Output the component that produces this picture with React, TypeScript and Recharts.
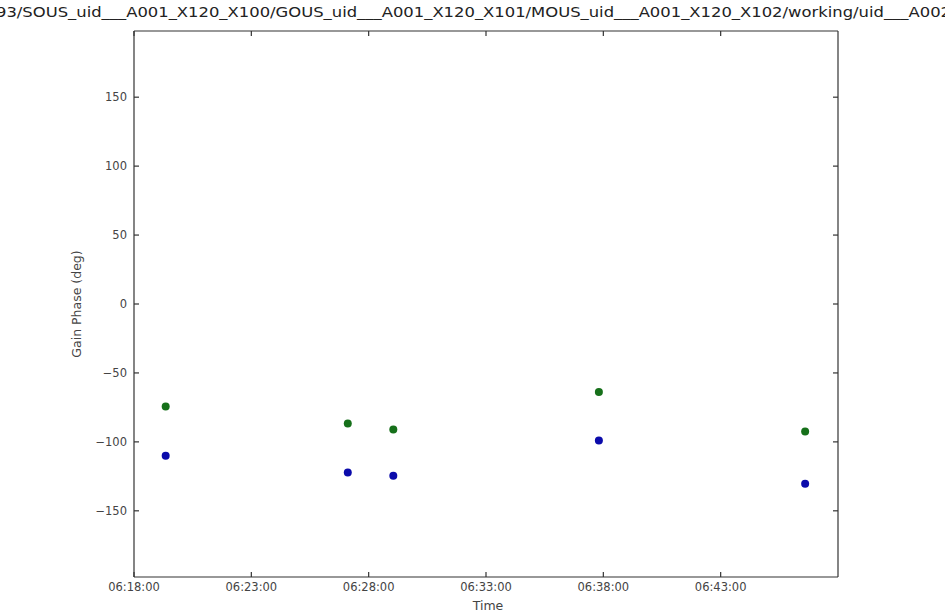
import React from 'react';
import { ScatterChart, Scatter, XAxis, YAxis, ReferenceLine, Customized } from 'recharts';

// minutes after 06:00:00
const timeMinutes = [19.35, 27.11, 29.05, 37.81, 46.6];
const greenPhase = [-74.4, -86.7, -91.1, -63.8, -92.5];
const bluePhase = [-110.1, -122.2, -124.6, -99.0, -130.4];
const xTicks = [18, 23, 28, 33, 38, 43];
const yTicks = [-150, -100, -50, 0, 50, 100, 150];
const xDomain = [18, 48];
const yDomain = [-198, 198];
const titleText = '93/SOUS_uid___A001_X120_X100/GOUS_uid___A001_X120_X101/MOUS_uid___A001_X120_X102/working/uid___A002';

const greenData = timeMinutes.map((t, i) => ({ t, v: greenPhase[i] }));
const blueData = timeMinutes.map((t, i) => ({ t, v: bluePhase[i] }));

const FONT = '"DejaVu Sans", sans-serif';
const AX = '#333';
const TXT = '#444';

// inward tick length (~5px) as a fraction of each axis span
const TICK_FRAC_X = 5 / 704;
const TICK_FRAC_Y = 5 / 546;
const dx = (xDomain[1] - xDomain[0]) * TICK_FRAC_X;
const dy = (yDomain[1] - yDomain[0]) * TICK_FRAC_Y;

const fmtTime = (m: number) => `06:${String(Math.floor(m)).padStart(2, '0')}:00`;
const fmtY = (v: number) => (v < 0 ? '\u2212' + Math.abs(v) : String(v));

const tickStyle = { fontSize: 11.5, fill: TXT, fontFamily: FONT };
const axisLineStyle = { stroke: AX, strokeWidth: 1.2 };

const dot = (color: string) => (p: any) => (
  <circle cx={p.cx} cy={p.cy} r={4} fill={color} stroke="none" />
);

export default function App() {
  return (
    <div style={{ position: 'absolute', left: 0, top: 0, width: 945, height: 613, background: '#fff' }}>
      <ScatterChart width={945} height={613} margin={{ top: 30, right: 106, bottom: 0, left: 0 }}>
        <XAxis xAxisId="bottom" type="number" dataKey="t" domain={xDomain} ticks={xTicks} interval={0} height={36}
          tickSize={0} tickMargin={6} tickLine={false} tick={tickStyle} tickFormatter={fmtTime} axisLine={axisLineStyle} allowDataOverflow />
        <XAxis xAxisId="top" orientation="top" type="number" dataKey="t" domain={xDomain} ticks={xTicks} height={1}
          tickLine={false} tick={false} axisLine={axisLineStyle} allowDataOverflow />
        <YAxis yAxisId="left" type="number" dataKey="v" domain={yDomain} ticks={yTicks} interval={0} width={134}
          tickSize={0} tickMargin={7} tickLine={false} tick={tickStyle} tickFormatter={fmtY} axisLine={axisLineStyle} allowDataOverflow />
        <YAxis yAxisId="right" orientation="right" type="number" dataKey="v" domain={yDomain} ticks={yTicks} width={1}
          tickLine={false} tick={false} axisLine={axisLineStyle} allowDataOverflow />
        {xTicks.map((t) => (
          <ReferenceLine key={'xb' + t} xAxisId="bottom" yAxisId="left" ifOverflow="visible" stroke={AX} strokeWidth={1.2}
            segment={[{ x: t, y: yDomain[0] }, { x: t, y: yDomain[0] + dy }]} />
        ))}
        {xTicks.map((t) => (
          <ReferenceLine key={'xt' + t} xAxisId="bottom" yAxisId="left" ifOverflow="visible" stroke={AX} strokeWidth={1.2}
            segment={[{ x: t, y: yDomain[1] }, { x: t, y: yDomain[1] - dy }]} />
        ))}
        {yTicks.map((v) => (
          <ReferenceLine key={'yl' + v} xAxisId="bottom" yAxisId="left" ifOverflow="visible" stroke={AX} strokeWidth={1.2}
            segment={[{ x: xDomain[0], y: v }, { x: xDomain[0] + dx, y: v }]} />
        ))}
        {yTicks.map((v) => (
          <ReferenceLine key={'yr' + v} xAxisId="bottom" yAxisId="left" ifOverflow="visible" stroke={AX} strokeWidth={1.2}
            segment={[{ x: xDomain[1], y: v }, { x: xDomain[1] - dx, y: v }]} />
        ))}
        <Scatter xAxisId="bottom" yAxisId="left" data={greenData} fill="#16701a" shape={dot('#16701a')} isAnimationActive={false} />
        <Scatter xAxisId="bottom" yAxisId="left" data={blueData} fill="#0b0bab" shape={dot('#0b0bab')} isAnimationActive={false} />
        <Customized
          component={() => (
            <g>
              <text x={-4} y={17} fontSize={14} fill="#222" fontFamily={FONT} textLength={955} lengthAdjust="spacingAndGlyphs">
                {titleText}
              </text>
              <text x={488} y={610} textAnchor="middle" fontSize={12.5} fill={TXT} fontFamily={FONT}>Time</text>
              <text x={81} y={304} textAnchor="middle" fontSize={12.5} fill={TXT} fontFamily={FONT} transform="rotate(-90 81 304)">
                Gain Phase (deg)
              </text>
            </g>
          )}
        />
      </ScatterChart>
    </div>
  );
}
